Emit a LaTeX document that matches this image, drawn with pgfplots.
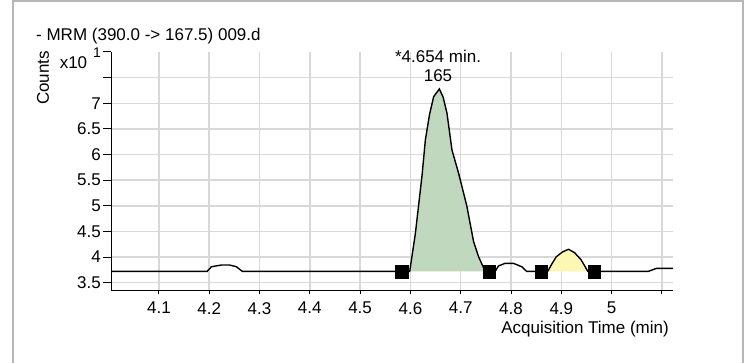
\documentclass[border=0pt]{standalone}
\usepackage{pgfplots}
\pgfplotsset{compat=1.18}
\usepackage{fontspec}
\setmainfont{Liberation Sans}
\definecolor{gridgray}{RGB}{216,216,216}
\definecolor{framegray}{RGB}{182,182,186}
\definecolor{peakgreen}{RGB}{192,216,190}
\definecolor{peakyellow}{RGB}{252,248,180}
\begin{document}
\begin{tikzpicture}[font=\fontsize{17bp}{19bp}\selectfont]
\useasboundingbox (0,0) rectangle (748bp,363bp);
\draw[framegray, line width=2bp] (12.7bp,-5bp) -- (12.7bp,362bp) -- (742.7bp,362bp) -- (742.7bp,-5bp);
\begin{axis}[
  at={(111bp,73bp)}, anchor=south west,
  width=562bp, height=238bp, scale only axis,
  xmin=4.0048, xmax=5.122, ymin=3.358, ymax=8.0,
  axis x line*=bottom, axis y line*=left,
  axis line style={black, line width=1bp, -},
  xtick={4.1,4.2,4.3,4.4,4.5,4.6,4.7,4.8,4.9,5.0,5.1},
  xticklabels={4.1,4.2,4.3,4.4,4.5,4.6,4.7,4.8,4.9,5,{}},
  ytick={3.5,4,4.5,5,5.5,6,6.5,7,7.5},
  yticklabels={3.5,4,4.5,5,5.5,6,6.5,7,{}},
  extra y ticks={8}, extra y tick labels={},
  extra tick style={grid=none},
  grid=major, major grid style={gridgray, line width=1.5bp},
  tick align=outside, major tick length=8bp,
  tick style={black, line width=1bp},
  xtick style={/pgfplots/major tick length=4bp},
  yticklabel style={anchor=east, inner sep=0pt, xshift=-2bp},
  xticklabel style={anchor=north, inner sep=0pt, yshift=-4bp},
  /pgf/number format/assume math mode=true,
]
\addplot[fill=peakgreen, draw=none] coordinates {
  (4.5986,3.72) (4.6099,4.464) (4.6232,5.601) (4.6297,6.284) (4.6380,6.78)
  (4.6462,7.129) (4.6575,7.279) (4.6650,7.12) (4.6727,6.805) (4.6826,6.089)
  (4.6958,5.634) (4.7124,4.983) (4.7256,4.300) (4.7355,4.007) (4.7488,3.72)
} -- cycle;
\addplot[fill=peakyellow, draw=none] coordinates {
  (4.8729,3.72) (4.8808,3.86) (4.8900,4.007) (4.9032,4.105) (4.9145,4.152)
  (4.9264,4.085) (4.9396,3.943) (4.9527,3.72)
} -- cycle;
\addplot[black, line width=1.4bp] coordinates {
  (4.0048,3.72) (4.1958,3.72) (4.2045,3.812) (4.2243,3.845) (4.2408,3.845)
  (4.2540,3.812) (4.2660,3.72)
  (4.5986,3.72) (4.6099,4.464) (4.6232,5.601) (4.6297,6.284) (4.6380,6.78)
  (4.6462,7.129) (4.6575,7.279) (4.6650,7.12) (4.6727,6.805) (4.6826,6.089)
  (4.6958,5.634) (4.7124,4.983) (4.7256,4.300) (4.7355,4.007) (4.7488,3.72)
  (4.7684,3.72) (4.7750,3.826) (4.7883,3.878) (4.8048,3.878) (4.8213,3.812)
  (4.8312,3.72)
  (4.8729,3.72) (4.8808,3.86) (4.8900,4.007) (4.9032,4.105) (4.9145,4.152)
  (4.9264,4.085) (4.9396,3.943) (4.9527,3.72)
  (5.0726,3.72) (5.0893,3.781) (5.1220,3.781)
};
\addplot[only marks, mark=square*, mark size=6.3bp, black] coordinates {
  (4.583,3.72) (4.757,3.72) (4.860,3.72) (4.965,3.72)
};
\end{axis}
\node[anchor=west, inner sep=0pt] at (36bp,327bp) {- MRM (390.0 -> 167.5) 009.d};
\node[rotate=90, inner sep=0pt] at (43bp,285bp) {Counts};
\node[inner sep=0pt] at (73.5bp,300.5bp) {x10};
\node[inner sep=0pt, font=\fontsize{14bp}{16bp}\selectfont] at (97bp,310bp) {1};
\node[inner sep=0pt] at (438bp,307bp) {*4.654 min.};
\node[inner sep=0pt] at (438bp,287bp) {165};
\node[anchor=east, inner sep=0pt] at (669bp,34bp) {Acquisition Time (min)};
\end{tikzpicture}
\end{document}
